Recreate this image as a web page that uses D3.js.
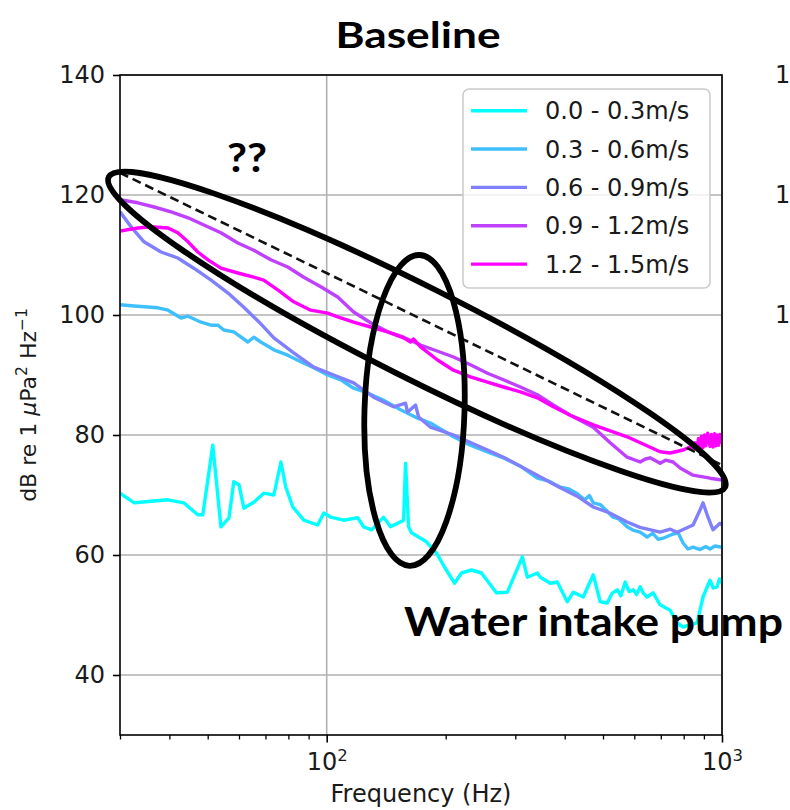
<!DOCTYPE html>
<html>
<head>
<meta charset="utf-8">
<script src="https://cdn.jsdelivr.net/npm/d3@7"></script>
<style>
  html, body { margin: 0; padding: 0; background: #fff; }
  svg { display: block; }
</style>
</head>
<body>
<div id="chart"></div>
<script>
// ---------- DATA ----------
const seriesLabels = ["0.0 - 0.3m/s", "0.3 - 0.6m/s", "0.6 - 0.9m/s", "0.9 - 1.2m/s", "1.2 - 1.5m/s"];
const seriesColors = ["#00ffff", "#40bfff", "#8080ff", "#bf40ff", "#ff00ff"];

// [frequency Hz, dB]
const speed00_03 = [[30,70.3],[32.6,68.7],[39.7,69.2],[43.5,68.7],[47.2,66.7],[48.6,66.7],[51.5,78.3],[54.0,64.7],[56.6,66.2],[58.2,72.2],[60.0,71.7],[61.7,67.8],[65.4,68.8],[69.3,70.3],[73.5,70.0],[76.6,75.5],[78.8,71.3],[82.1,68.0],[87.5,65.8],[94.9,65.0],[98.3,67.0],[102.4,66.3],[110.4,65.8],[119.8,66.2],[124.0,64.7],[129.9,64.2],[139.3,66.3],[145.1,64.7],[156.5,65.8],[158.3,75.3],[161.1,64.7],[163.9,63.7],[178.8,62.2],[189.6,60.3],[198.6,58.0],[210.5,55.3],[219.3,57.0],[232.4,57.5],[246.3,57.0],[268.8,53.7],[286.5,53.8],[312.6,59.7],[321.8,56.3],[341.1,57.0],[347.1,56.3],[367.9,55.3],[383.1,55.5],[406.1,52.2],[420.5,53.8],[445.7,53.0],[472.4,56.7],[492.0,52.2],[512.4,52.0],[527.0,53.6],[543.0,54.2],[555.0,53.2],[569.1,55.5],[582.0,53.9],[596.0,54.2],[608.0,53.4],[620.8,54.7],[633.0,53.6],[646.6,53.0],[669.5,53.7],[697.3,51.7],[739.1,50.8],[769.8,48.7],[797.2,48.0],[864.8,48.7],[895.4,53.0],[932.6,55.8],[950.0,54.5],[971.4,54.7],[985.0,56.0],[1000,55.3]];

const speed03_06 = [[30,101.7],[32.6,101.5],[37.4,101.2],[39.7,100.8],[42.8,99.5],[44.6,99.8],[48.1,98.8],[51.0,98.3],[53.1,98.3],[54.9,97.5],[58.2,97.2],[63.2,95.5],[65.4,96.3],[68.1,95.5],[73.5,94.2],[79.7,93.3],[86.0,92.2],[92.7,91.2],[100.6,90.0],[108.5,89.2],[117.0,87.8],[126.9,87.0],[139.3,85.8],[153.8,84.2],[169.8,82.8],[183.0,82.0],[209.3,79.7],[231.0,78.3],[255.1,77.2],[279.9,76.2],[309.0,74.8],[341.1,72.8],[365.0,72.3],[389.9,71.3],[410.0,71.0],[430.4,70.2],[450.0,69.2],[462.0,69.9],[472.4,68.7],[492.0,68.4],[512.4,67.3],[530.0,66.3],[548.0,66.0],[575.5,64.7],[598.0,64.1],[620.8,63.8],[646.6,63.0],[668.0,63.6],[690.0,62.6],[709.6,62.8],[752.1,63.5],[774.3,63.7],[797.2,62.0],[820.0,61.0],[844.9,61.3],[880.0,60.9],[910.0,61.4],[932.6,61.0],[960.0,61.5],[1000,61.3]];

const speed06_09 = [[30,117.2],[32.0,114.7],[34.5,112.2],[38.1,110.5],[42.0,109.5],[46.1,107.8],[51.0,105.8],[56.2,103.7],[61.7,101.3],[67.5,98.8],[73.5,96.2],[82.5,93.7],[92.7,91.3],[104.2,90.0],[117.0,88.7],[131.4,86.3],[147.6,84.7],[158.3,85.3],[160.1,83.8],[167.8,85.0],[170.8,83.0],[183.0,81.3],[209.3,80.0],[255.1,77.5],[279.9,76.3],[330.0,73.8],[389.9,71.2],[430.0,69.8],[472.4,68.0],[520.0,67.0],[575.5,65.5],[620.0,64.6],[660.0,64.2],[697.3,63.8],[740.0,64.3],[769.8,63.8],[844.9,65.0],[879.9,67.5],[895.4,68.7],[921.8,66.3],[949.1,64.2],[988.4,65.3],[1000,65.0]];

const speed09_12 = [[30,119.2],[33.3,118.7],[36.6,118.0],[40.4,117.2],[44.6,116.2],[48.9,115.0],[54.0,113.7],[59.6,112.0],[65.4,110.8],[72.2,109.2],[79.7,108.0],[87.5,106.3],[96.6,104.7],[106.6,103.0],[117.0,100.5],[129.2,98.7],[142.6,97.2],[156.5,96.3],[172.8,95.0],[209.3,93.0],[231.0,91.7],[255.1,90.3],[279.9,89.2],[309.0,88.0],[341.1,86.7],[374.4,85.0],[413.2,83.3],[472.4,81.3],[521.4,78.7],[575.5,76.3],[620.8,75.5],[640.0,76.0],[657.9,76.2],[697.3,75.3],[720.0,75.8],[752.1,75.5],[783.4,74.5],[844.9,73.3],[932.6,72.8],[1000,72.5]];

const speed12_15 = [[30,114.0],[33.3,114.5],[35.9,114.7],[39.7,114.5],[42.0,113.7],[44.6,112.2],[47.2,110.5],[50.1,109.2],[54.0,107.8],[59.6,107.0],[65.4,106.3],[69.3,105.8],[75.2,104.2],[82.5,102.2],[91.1,100.8],[100.6,100.3],[106.6,99.7],[117.0,98.8],[129.2,98.0],[142.6,97.2],[156.5,96.2],[163.0,95.5],[165.8,96.0],[172.8,94.7],[190.7,92.5],[209.3,90.8],[231.0,89.7],[255.1,88.8],[279.9,88.0],[309.0,87.2],[341.1,86.2],[374.4,84.7],[413.2,83.3],[472.4,81.7],[575.5,79.7],[697.3,77.2],[739.1,77.0],[797.2,77.5],[830.0,78.0],[844.9,77.6],[855.0,78.7],[864.8,77.8],[872.0,79.4],[879.9,78.0],[887.0,79.8],[895.4,77.9],[903.0,80.0],[910.0,78.2],[920.0,80.3],[932.6,78.1],[940.0,80.1],[949.1,78.0],[957.0,80.2],[965.0,78.2],[972.0,80.0],[980.0,78.3],[988.0,80.1],[1000,78.6]];

const seriesData = [speed00_03, speed03_06, speed06_09, speed09_12, speed12_15];

const trendLine = [[30,123.7],[1000,75.0]];

const yTicks = [40, 60, 80, 100, 120, 140];
const xMajorTicks = [100, 1000];
const xMajorExp = ["2", "3"];
const xMinorTicks = [30,40,50,60,70,80,90,200,300,400,500,600,700,800,900];

// only the leading digit of the next panel's tick labels is visible in the reference
const neighbourTicks = [140, 120, 100];
const neighbourTickText = ["1", "1", "1"];

// annotation ellipses given by their two tips in data space
const bigEllipseTips = [[28.1,123.0],[1018,71.3]];
const smallEllipseTips = [[171.7,110.0],[162.0,58.2]];

// ---------- LAYOUT ----------
const W = 790, H = 810;
const L = 120, R = 722, T = 75, B = 735;

const svg = d3.select("#chart").append("svg").attr("width", W).attr("height", H);

const x = d3.scaleLog().domain([30, 1000]).range([L, R]);
const y = d3.scaleLinear().domain([30, 140]).range([B, T]);

const tickFont = "'DejaVu Sans', sans-serif";
const annFont = "Lato, 'Open Sans', sans-serif";
const textCol = "#1a1a1a";

// grid
svg.append("g").selectAll("line").data(yTicks).join("line")
  .attr("x1", L).attr("x2", R).attr("y1", d => y(d)).attr("y2", d => y(d))
  .attr("stroke", "#b0b0b0").attr("stroke-width", 1.6);
svg.append("g").selectAll("line").data(xMajorTicks).join("line")
  .attr("x1", d => x(d)).attr("x2", d => x(d)).attr("y1", T).attr("y2", B)
  .attr("stroke", "#b0b0b0").attr("stroke-width", 1.6);

// clip
svg.append("clipPath").attr("id", "clip").append("rect")
  .attr("x", L).attr("y", T).attr("width", R - L).attr("height", B - T);

const line = d3.line().x(d => x(d[0])).y(d => y(d[1]));

svg.append("g").attr("clip-path", "url(#clip)")
  .selectAll("path").data(seriesData).join("path")
  .attr("d", line)
  .attr("fill", "none")
  .attr("stroke", (d, i) => seriesColors[i])
  .attr("stroke-width", 3.4)
  .attr("stroke-linejoin", "round");

// y axis
const yAxis = d3.axisLeft(y).tickValues(yTicks).tickSize(7).tickPadding(8);
const gy = svg.append("g").attr("transform", `translate(${L},0)`).call(yAxis);
gy.select(".domain").remove();
gy.selectAll(".tick line").attr("stroke", "#000").attr("stroke-width", 1.6);
gy.selectAll(".tick text").attr("font-family", tickFont).attr("font-size", 24).attr("fill", textCol);

// x axis minor ticks
const xMinor = d3.axisBottom(x).tickValues(xMinorTicks).tickSize(4.5).tickFormat("");
const gxm = svg.append("g").attr("transform", `translate(0,${B})`).call(xMinor);
gxm.select(".domain").remove();
gxm.selectAll(".tick line").attr("stroke", "#000").attr("stroke-width", 1.3);

// x axis major ticks
const xMajor = d3.axisBottom(x).tickValues(xMajorTicks).tickSize(7.5).tickFormat("");
const gx = svg.append("g").attr("transform", `translate(0,${B})`).call(xMajor);
gx.select(".domain").remove();
gx.selectAll(".tick line").attr("stroke", "#000").attr("stroke-width", 1.6);
gx.selectAll(".tick").each(function(d, i) {
  const t = d3.select(this).append("text")
    .attr("y", 35).attr("text-anchor", "middle")
    .attr("font-family", tickFont).attr("font-size", 24).attr("fill", textCol);
  t.append("tspan").text("10");
  t.append("tspan").attr("dy", -9).attr("font-size", 16.5).text(xMajorExp[i]);
});

// spines
svg.append("rect").attr("x", L).attr("y", T).attr("width", R - L).attr("height", B - T)
  .attr("fill", "none").attr("stroke", "#000").attr("stroke-width", 1.6);

// axis labels
svg.append("text").attr("x", (L + R) / 2).attr("y", 802).attr("text-anchor", "middle")
  .attr("font-family", tickFont).attr("font-size", 24).attr("fill", textCol)
  .text("Frequency (Hz)");

const yl = svg.append("text")
  .attr("transform", `translate(36,${(T + B) / 2}) rotate(-90)`)
  .attr("text-anchor", "middle")
  .attr("font-family", tickFont).attr("font-size", 22).attr("fill", textCol);
yl.append("tspan").text("dB re 1 ");
yl.append("tspan").attr("font-style", "italic").text("\u03bc");
yl.append("tspan").text("Pa");
yl.append("tspan").attr("dy", -9).attr("font-size", 15.5).text("2");
yl.append("tspan").attr("dy", 9).text(" Hz");
yl.append("tspan").attr("dy", -9).attr("font-size", 15.5).text("\u22121");

// visible leading digits of the neighbouring panel's tick labels
svg.append("g").selectAll("text").data(neighbourTicks).join("text")
  .attr("x", 775).attr("y", d => y(d)).attr("dy", "0.32em")
  .attr("font-family", tickFont).attr("font-size", 24).attr("fill", textCol)
  .text((d, i) => neighbourTickText[i]);

// legend
const lg = svg.append("g");
lg.append("rect").attr("x", 463).attr("y", 89).attr("width", 247).attr("height", 199)
  .attr("rx", 6).attr("fill", "#fff").attr("fill-opacity", 0.8)
  .attr("stroke", "#cccccc").attr("stroke-width", 1.6);
const items = lg.selectAll("g.item").data(seriesLabels).join("g")
  .attr("transform", (d, i) => `translate(0,${110.7 + i * 38.35})`);
items.append("line").attr("x1", 471).attr("x2", 527).attr("y1", 0).attr("y2", 0)
  .attr("stroke", (d, i) => seriesColors[i]).attr("stroke-width", 3.4);
items.append("text").attr("x", 545).attr("y", 0).attr("dy", "0.36em")
  .attr("font-family", tickFont).attr("font-size", 24).attr("fill", textCol)
  .text(d => d);

// dashed trend line
svg.append("path").datum(trendLine).attr("d", line)
  .attr("fill", "none").attr("stroke", "#111").attr("stroke-width", 2.6)
  .attr("stroke-dasharray", "9,5");

// annotation ellipses
function drawEllipse(tips, semiMinor) {
  const p1 = [x(tips[0][0]), y(tips[0][1])];
  const p2 = [x(tips[1][0]), y(tips[1][1])];
  const cx = (p1[0] + p2[0]) / 2, cy = (p1[1] + p2[1]) / 2;
  const dx = p2[0] - p1[0], dy = p2[1] - p1[1];
  const a = Math.hypot(dx, dy) / 2;
  const ang = Math.atan2(dy, dx) * 180 / Math.PI;
  svg.append("ellipse")
    .attr("transform", `translate(${cx},${cy}) rotate(${ang})`)
    .attr("rx", a).attr("ry", semiMinor)
    .attr("fill", "none").attr("stroke", "#000").attr("stroke-width", 5.8);
}
drawEllipse(bigEllipseTips, 46);
drawEllipse(smallEllipseTips, 50);

// title & annotations
svg.append("text").attr("x", 418).attr("y", 48).attr("text-anchor", "middle")
  .attr("font-family", annFont).attr("font-weight", 700).attr("font-size", 36)
  .attr("textLength", 165).attr("lengthAdjust", "spacingAndGlyphs")
  .text("Baseline");
svg.append("text").attr("x", 247).attr("y", 172).attr("text-anchor", "middle")
  .attr("font-family", annFont).attr("font-weight", 700).attr("font-size", 41)
  .attr("textLength", 40).attr("lengthAdjust", "spacingAndGlyphs")
  .text("??");
svg.append("text").attr("x", 404).attr("y", 636)
  .attr("font-family", annFont).attr("font-weight", 700).attr("font-size", 40)
  .attr("textLength", 379).attr("lengthAdjust", "spacingAndGlyphs")
  .text("Water intake pump");
</script>
</body>
</html>
